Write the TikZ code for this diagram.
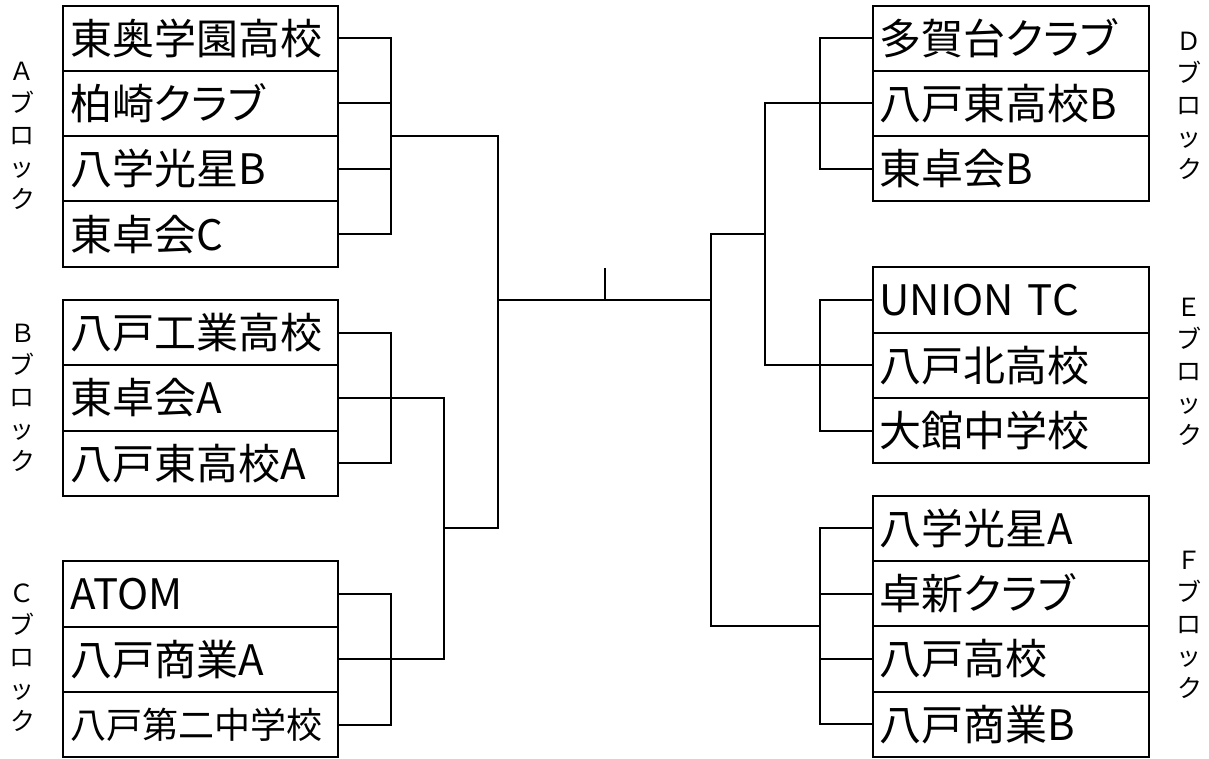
\documentclass[tikz,border=0pt]{standalone}
\usepackage{fontspec}
\setmainfont{Noto Sans CJK JP}[CharacterWidth=AlternateProportional]
\usetikzlibrary{calc}
\tikzset{
  lnk/.style={line width=2pt},
  teamL/.style={draw, line width=2pt, rectangle, outer sep=0pt, inner xsep=7pt, inner ysep=0pt,
    minimum width=274.5pt, minimum height=65.3pt, text width=260.5pt, align=left,
    text height=37pt, text depth=5pt, anchor=north west, font=\fontsize{42}{50}\selectfont},
  teamR/.style={teamL, minimum width=276.5pt, text width=262.5pt},
  small/.style={font=\fontsize{36}{44}\selectfont, text height=32pt, text depth=4pt},
  blk/.style={align=center, font=\fontsize{25}{32}\selectfont, inner sep=0pt},
}
\begin{document}
\begin{tikzpicture}[x=1pt, y=-1pt]
\fill[white] (0,0) rectangle (1209,758);
% ---- left teams
\node[teamL] (a1) at (63,5.5) {東奥学園高校};
\node[teamL] (a2) at (63,70.8) {柏崎クラブ};
\node[teamL] (a3) at (63,136.1) {八学光星B};
\node[teamL] (a4) at (63,201.4) {東卓会C};
\node[teamL] (b1) at (63,300) {八戸工業高校};
\node[teamL] (b2) at (63,365.3) {東卓会A};
\node[teamL] (b3) at (63,430.6) {八戸東高校A};
\node[teamL] (c1) at (63,561.3) {ATOM};
\node[teamL] (c2) at (63,626.6) {八戸商業A};
\node[teamL, small] (c3) at (63,691.9) {八戸第二中学校};
% ---- right teams
\node[teamR] (d1) at (872.5,5.5) {多賀台クラブ};
\node[teamR] (d2) at (872.5,70.8) {八戸東高校B};
\node[teamR] (d3) at (872.5,136.1) {東卓会B};
\node[teamR] (e1) at (872.5,267.3) {UNION TC};
\node[teamR] (e2) at (872.5,332.6) {八戸北高校};
\node[teamR] (e3) at (872.5,397.9) {大館中学校};
\node[teamR] (f1) at (872.5,495.7) {八学光星A};
\node[teamR] (f2) at (872.5,561.0) {卓新クラブ};
\node[teamR] (f3) at (872.5,626.3) {八戸高校};
\node[teamR] (f4) at (872.5,691.6) {八戸商業B};
% ---- block labels
\node[blk] (lA) at (22,136) {Ａ\\ブ\\ロ\\ッ\\ク};
\node[blk] (lB) at (22,398) {Ｂ\\ブ\\ロ\\ッ\\ク};
\node[blk] (lC) at (22,658) {Ｃ\\ブ\\ロ\\ッ\\ク};
\node[blk] (lD) at (1189,106) {Ｄ\\ブ\\ロ\\ッ\\ク};
\node[blk] (lE) at (1189,372) {Ｅ\\ブ\\ロ\\ッ\\ク};
\node[blk] (lF) at (1189,625) {Ｆ\\ブ\\ロ\\ッ\\ク};
% ---- reference coordinates
\coordinate (xLb) at (390.7,0);
\coordinate (xLm) at (444,0);
\coordinate (xLs) at (498,0);
\coordinate (xRb) at (819.5,0);
\coordinate (xRm) at (765,0);
\coordinate (xRs) at (711,0);
\coordinate (jBC) at (444,528.3);
\coordinate (jDE) at (765,234.3);
\coordinate (fin) at (605,300);
\coordinate (finTop) at (605,267.7);
% ---- left brackets
\draw[lnk] (a1.east) -| (a4.east -| xLb) -- (a4.east);
\draw[lnk] (a2.east) -- (a2.east -| xLb);
\draw[lnk] (a3.east) -- (a3.east -| xLb);
\draw[lnk] (b1.east) -| (b3.east -| xLb) -- (b3.east);
\draw[lnk] (c1.east) -| (c3.east -| xLb) -- (c3.east);
\draw[lnk] (b2.east) -| (c2.east -| xLm) -- (c2.east);
\draw[lnk] (a2.south -| xLb) -| (jBC -| xLs) -- (jBC);
% ---- right brackets
\draw[lnk] (d1.west) -| (d3.west -| xRb) -- (d3.west);
\draw[lnk] (d2.west) -| (e2.west -| xRm) -- (e2.west);
\draw[lnk] (e1.west) -| (e3.west -| xRb) -- (e3.west);
\draw[lnk] (f1.west) -| (f4.west -| xRb) -- (f4.west);
\draw[lnk] (f2.west) -- (f2.west -| xRb);
\draw[lnk] (f3.west) -- (f3.west -| xRb);
\draw[lnk] (jDE) -| (f2.south -| xRs) -- (f2.south -| xRb);
% ---- final
\draw[lnk] (fin -| xLs) -- (fin -| xRs);
\draw[lnk] (fin) -- (finTop);
\end{tikzpicture}
\end{document}
